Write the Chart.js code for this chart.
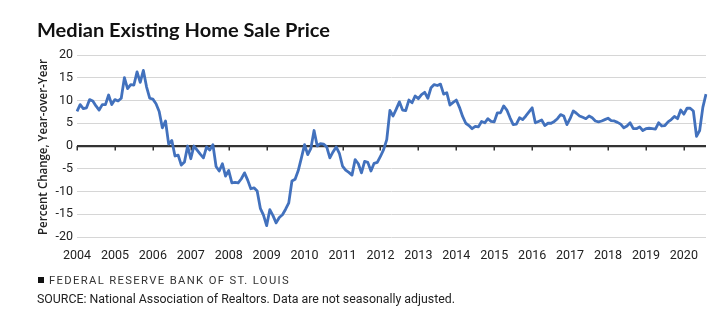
<!DOCTYPE html>
<html>
<head>
<meta charset="utf-8">
<script src="https://cdn.jsdelivr.net/npm/chart.js@4.4.1/dist/chart.umd.min.js"></script>
<style>
  html, body { margin: 0; padding: 0; background: #fff; }
  #wrap { position: relative; width: 724px; height: 328px; overflow: hidden; background: #fff; }
  #chart { position: absolute; left: 0; top: 0; }
  .txt { position: absolute; white-space: nowrap; transform-origin: 0 0; color: #1a1a1a; }
  #title { left: 37px; top: 21px; font: bold 18px/18px Lato, "Noto Sans", sans-serif; color: #111; }
  #ytitle { font: 600 12px/12px "Open Sans", "Noto Sans", sans-serif; color: #222; }
  #sq { position: absolute; left: 38px; top: 277px; width: 6px; height: 6px; background: #111; }
  #frb { left: 49px; top: 275px; font: 10px/12px Roboto, "Noto Sans", sans-serif; letter-spacing: 1.2px; color: #333; }
  #src { left: 37px; top: 292px; font: 12px/14px Roboto, "Noto Sans", sans-serif; color: #222; }
</style>
</head>
<body>
<div id="wrap">
  <canvas id="chart" width="724" height="328"></canvas>
  <div id="title" class="txt">Median Existing Home Sale Price</div>
  <div id="ytitle" class="txt">Percent Change, Year-over-Year</div>
  <div id="sq"></div>
  <div id="frb" class="txt">FEDERAL RESERVE BANK OF ST. LOUIS</div>
  <div id="src" class="txt">SOURCE: National Association of Realtors. Data are not seasonally adjusted.</div>
</div>
<script>
// ---- Data (percent change, year-over-year, monthly from Jan 2004) ----
const years = ['2004','2005','2006','2007','2008','2009','2010','2011','2012','2013','2014','2015','2016','2017','2018','2019','2020'];
const y2004 = [7.6, 9.1, 8.2, 8.4, 10.2, 9.9, 8.8, 7.9, 9.1, 9.1, 11.2, 9.1];
const y2005 = [10.2, 9.9, 10.5, 15.0, 12.6, 13.5, 13.4, 16.3, 14.0, 16.6, 13.0, 10.5];
const y2006 = [10.3, 9.3, 7.6, 4.0, 5.5, 0.4, 1.2, -2.2, -2.0, -4.2, -3.5, 0.0];
const y2007 = [-2.8, 0.0, -0.9, -1.8, -2.6, -0.2, -0.9, 0.3, -4.5, -5.5, -3.9, -6.6];
const y2008 = [-5.4, -8.1, -8.0, -8.1, -7.2, -5.9, -7.5, -9.4, -9.2, -9.9, -13.7, -15.2];
const y2009 = [-17.5, -14.0, -15.3, -16.9, -15.7, -15.1, -13.9, -12.5, -7.7, -7.3, -5.4, -2.6];
const y2010 = [0.3, -1.9, -0.5, 3.4, 0.0, 0.5, 0.4, -0.2, -2.6, -1.3, -0.2, -1.6];
const y2011 = [-4.4, -5.3, -5.8, -6.4, -3.0, -3.9, -5.9, -3.4, -3.6, -5.5, -3.8, -3.6];
const y2012 = [-2.3, -0.8, 1.4, 7.8, 6.6, 8.1, 9.7, 7.9, 7.8, 10.1, 9.5, 11.0];
const y2013 = [10.4, 11.3, 11.8, 10.5, 12.8, 13.5, 13.3, 13.6, 11.4, 11.7, 9.0, 9.6];
const y2014 = [10.1, 8.5, 6.5, 5.0, 4.5, 3.8, 4.3, 4.2, 5.4, 5.1, 6.0, 5.4];
const y2015 = [5.3, 7.3, 7.3, 8.8, 7.9, 6.2, 4.7, 4.8, 6.2, 5.8, 6.6, 7.5];
const y2016 = [8.4, 5.1, 5.4, 5.7, 4.5, 5.0, 5.0, 5.4, 6.0, 6.9, 6.6, 4.7];
const y2017 = [6.0, 7.7, 7.2, 6.6, 6.3, 6.0, 6.6, 6.2, 5.5, 5.3, 5.5, 5.8];
const y2018 = [6.1, 5.6, 5.5, 5.2, 4.8, 4.0, 4.4, 5.1, 3.8, 3.8, 4.2, 3.4];
const y2019 = [3.8, 3.9, 3.8, 3.7, 5.1, 4.4, 4.5, 5.3, 5.8, 6.5, 6.0, 7.9];
const y2020 = [7.0, 8.3, 8.3, 7.7, 2.1, 3.4, 8.5, 11.4];
const yTickMin = -20, yTickMax = 20, yTickStep = 5;

const series = [].concat(y2004, y2005, y2006, y2007, y2008, y2009, y2010, y2011,
  y2012, y2013, y2014, y2015, y2016, y2017, y2018, y2019, y2020);
const months = ['01','02','03','04','05','06','07','08','09','10','11','12'];
const labels = [];
for (const yr of years) for (const m of months) if (labels.length < series.length) labels.push(yr + '-' + m);

// ---- Layout ----
const AREA = { left: 77, right: 706, top: 55, bottom: 237 };
const W = 724, H = 328, XAXIS_H = 30;

const zeroTicks = {
  id: 'zeroTicks',
  beforeDatasetsDraw(chart) {
    const { ctx, scales: { x, y } } = chart;
    const y0 = y.getPixelForValue(0);
    ctx.save();
    ctx.strokeStyle = '#333';
    ctx.lineWidth = 1.5;
    labels.forEach((l, i) => {
      if (l.endsWith('-01')) {
        const px = Math.round(x.getPixelForValue(i)) + 0.25;
        ctx.beginPath();
        ctx.moveTo(px, y0);
        ctx.lineTo(px, y0 + 4.5);
        ctx.stroke();
      }
    });
    ctx.restore();
  }
};

new Chart(document.getElementById('chart'), {
  type: 'line',
  data: {
    labels: labels,
    datasets: [{
      data: series,
      borderColor: '#4271bd',
      borderWidth: 2.8,
      pointRadius: 0,
      tension: 0,
      fill: false,
      borderJoinStyle: 'round'
    }]
  },
  options: {
    responsive: false,
    animation: false,
    devicePixelRatio: 1,
    layout: { padding: { left: 0, right: W - AREA.right, top: AREA.top, bottom: H - AREA.bottom - XAXIS_H } },
    plugins: { legend: { display: false }, tooltip: { enabled: false }, title: { display: false } },
    scales: {
      x: {
        type: 'category',
        offset: false,
        grid: { display: false, drawTicks: false },
        border: { display: false },
        afterFit(s) { s.height = XAXIS_H; },
        ticks: {
          autoSkip: false, maxRotation: 0, minRotation: 0, padding: 11,
          color: '#222', font: { family: 'Roboto', size: 12.5 },
          callback(v, i) { const l = labels[i]; return l.endsWith('-01') ? l.slice(0, 4) : ''; }
        }
      },
      y: {
        min: yTickMin, max: yTickMax,
        afterFit(s) { s.width = AREA.left; },
        border: { display: false },
        grid: {
          drawTicks: false,
          color: c => c.tick.value === 0 ? '#333' : '#d6d6d6',
          lineWidth: c => c.tick.value === 0 ? 2.2 : 1
        },
        ticks: {
          stepSize: yTickStep, padding: 4, color: '#222',
          font: { family: 'Roboto', size: 12.5 },
          callback: v => String(v)
        }
      }
    }
  },
  plugins: [zeroTicks]
});

// ---- Fit HTML text widths ----
function fitX(id, width) {
  const el = document.getElementById(id);
  const w = el.getBoundingClientRect().width;
  el.style.transform = 'scaleX(' + (width / w) + ')';
}
fitX('title', 293);
fitX('src', 418);
fitX('frb', 241);
(function () {
  const el = document.getElementById('ytitle');
  const w = el.getBoundingClientRect().width;
  const target = 176, sx = target / w;
  const cx = 43, cy = 147;
  el.style.left = (cx - 6) + 'px';
  el.style.top = (cy + target / 2) + 'px';
  el.style.transform = 'rotate(-90deg) scaleX(' + sx + ')';
})();
</script>
</body>
</html>
